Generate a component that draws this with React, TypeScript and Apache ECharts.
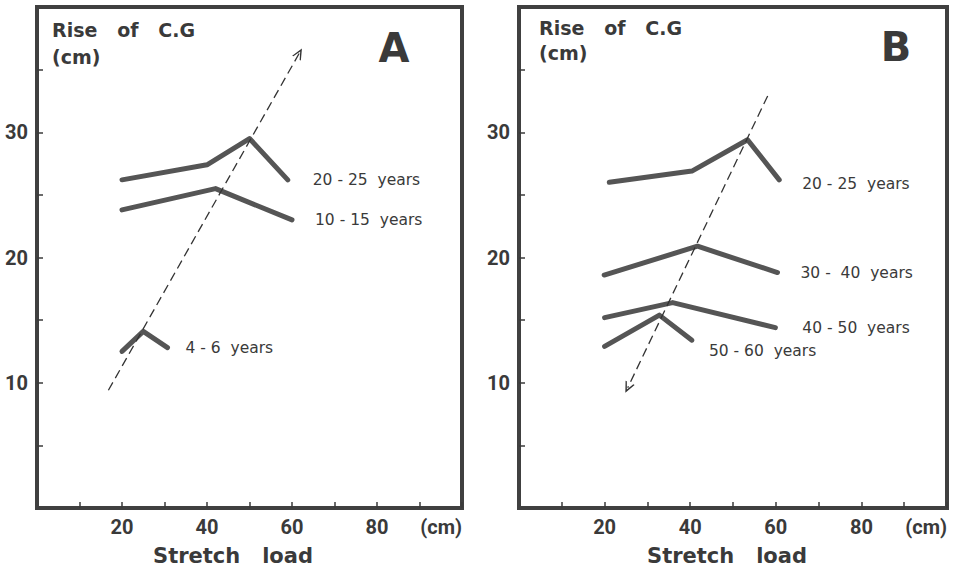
import React, { useEffect, useRef } from "react";
import * as echarts from "echarts";

// Stretch load (cm) and rise of the centre of gravity (cm), one pair list per age group
const ageLabelsA = ["20 - 25  years", "10 - 15  years", "4 - 6  years"];
const groupA_20_25: number[][] = [[20, 26.2], [40, 27.4], [50, 29.5], [59, 26.2]];
const groupA_10_15: number[][] = [[20, 23.8], [42, 25.5], [60, 23.0]];
const groupA_4_6: number[][] = [[20, 12.5], [25, 14.1], [30.7, 12.8]];
const trendA: number[][] = [[16.8, 9.4], [61.7, 36.3]];

const ageLabelsB = ["20 - 25  years", "30 -  40  years", "40 - 50  years", "50 - 60  years"];
const groupB_20_25: number[][] = [[21.1, 26.0], [40.4, 26.9], [53.4, 29.4], [60.8, 26.2]];
const groupB_30_40: number[][] = [[19.9, 18.6], [41.7, 20.9], [60.4, 18.8]];
const groupB_40_50: number[][] = [[20, 15.2], [35.9, 16.4], [59.9, 14.4]];
const groupB_50_60: number[][] = [[20, 12.9], [32.8, 15.4], [40.4, 13.4]];
const trendB: number[][] = [[58.1, 32.9], [25.4, 9.6]];

const xTickLabels = [20, 40, 60, 80];
const yTickLabels = [10, 20, 30];
const xUnit = "(cm)";

const INK = "#3a3a3a";
const LINE = "#555555";
const CHEVRON = "path://M0,10 L5,0 L10,10 L8.6,10 L5,3.2 L1.4,10 Z";

function ageLine(data: number[][], label: string, idx: number, offset: number[]) {
  return {
    type: "line",
    xAxisIndex: idx,
    yAxisIndex: idx,
    data,
    showSymbol: false,
    symbol: "none",
    silent: true,
    lineStyle: { color: LINE, width: 5, cap: "round", join: "round" },
    endLabel: {
      show: true,
      formatter: label,
      distance: 0,
      offset,
      color: INK,
      fontFamily: "DejaVu Sans",
      fontSize: 15.5,
      align: "left",
      verticalAlign: "middle",
    },
  };
}

function trendLine(pts: number[][], idx: number) {
  return {
    type: "line",
    xAxisIndex: idx,
    yAxisIndex: idx,
    data: pts,
    showSymbol: false,
    symbol: "none",
    silent: true,
    lineStyle: { opacity: 0 },
    markLine: {
      silent: true,
      symbol: ["none", CHEVRON],
      symbolSize: [10, 11],
      label: { show: false },
      lineStyle: { color: "#333", width: 1.3, type: [9, 5] },
      data: [[{ coord: pts[0] }, { coord: pts[1] }]],
    },
  };
}

function xAxis(idx: number) {
  return {
    type: "value",
    gridIndex: idx,
    min: 0,
    max: 100,
    interval: 10,
    splitLine: { show: false },
    axisLine: { show: false },
    axisTick: { show: true, inside: true, length: 6, lineStyle: { color: INK, width: 1.5 } },
    axisLabel: {
      showMinLabel: false,
      showMaxLabel: true,
      alignMaxLabel: "right",
      margin: 9,
      color: INK,
      fontFamily: "Roboto",
      fontWeight: "bold",
      fontSize: 20,
      formatter: (v: number) =>
        v === 100 ? xUnit : xTickLabels.includes(v) ? String(v) : "",
    },
  };
}

function yAxis(idx: number) {
  return {
    type: "value",
    gridIndex: idx,
    min: 0,
    max: 40,
    interval: 5,
    splitLine: { show: false },
    axisLine: { show: false },
    axisTick: { show: true, inside: true, length: 6, lineStyle: { color: INK, width: 1.5 } },
    axisLabel: {
      showMinLabel: false,
      showMaxLabel: false,
      margin: 9,
      color: INK,
      fontFamily: "Roboto",
      fontWeight: "bold",
      fontSize: 20,
      formatter: (v: number) => (yTickLabels.includes(v) ? String(v) : ""),
    },
  };
}

function textEl(text: string, x: number, y: number, size: number, align = "left", weight = "bold") {
  return {
    type: "text",
    x,
    y,
    silent: true,
    style: {
      text,
      fill: INK,
      font: `${weight} ${size}px "DejaVu Sans"`,
      textAlign: align,
      textVerticalAlign: "middle",
    },
  };
}

export default function App() {
  const ref = useRef<HTMLDivElement>(null);

  useEffect(() => {
    if (!ref.current) return;
    const chart = echarts.init(ref.current, undefined, { renderer: "svg" });
    const gridStyle = { show: true, borderColor: "#404040", borderWidth: 4, backgroundColor: "#fff" };
    chart.setOption({
      animation: false,
      backgroundColor: "#ffffff",
      grid: [
        { ...gridStyle, left: 37, right: 492, top: 7, bottom: 61 },
        { ...gridStyle, left: 519, right: 7, top: 7, bottom: 61 },
      ],
      xAxis: [xAxis(0), xAxis(1)],
      yAxis: [yAxis(0), yAxis(1)],
      series: [
        trendLine(trendA, 0),
        ageLine(groupA_20_25, ageLabelsA[0], 0, [25, 0]),
        ageLine(groupA_10_15, ageLabelsA[1], 0, [23, 0]),
        ageLine(groupA_4_6, ageLabelsA[2], 0, [18, 0]),
        trendLine(trendB, 1),
        ageLine(groupB_20_25, ageLabelsB[0], 1, [23, 4]),
        ageLine(groupB_30_40, ageLabelsB[1], 1, [23, 0]),
        ageLine(groupB_40_50, ageLabelsB[2], 1, [27, 0]),
        ageLine(groupB_50_60, ageLabelsB[3], 1, [17, 11]),
      ],
      graphic: [
        textEl("Rise   of   C.G", 52, 30, 19),
        textEl("(cm)", 52, 57, 19),
        textEl("Rise   of   C.G", 539, 28, 19),
        textEl("(cm)", 539, 53, 19),
        textEl("A", 394, 48, 40, "center"),
        textEl("B", 896, 47, 40, "center"),
        textEl("Stretch   load", 233, 556, 21, "center"),
        textEl("Stretch   load", 727, 556, 21, "center"),
      ],
    });
    return () => chart.dispose();
  }, []);

  return (
    <div
      ref={ref}
      style={{ position: "fixed", left: 0, top: 0, width: 954, height: 569, background: "#fff" }}
    />
  );
}
